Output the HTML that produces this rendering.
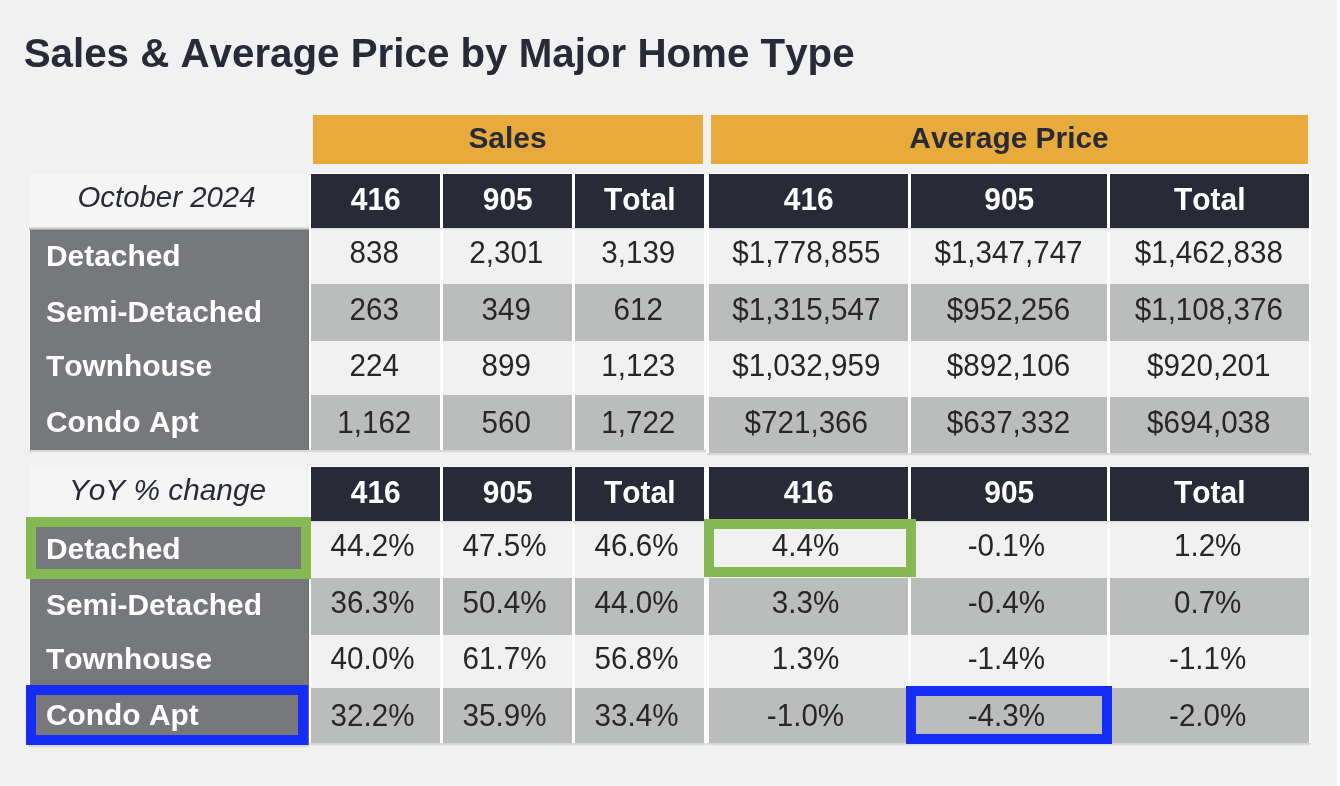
<!DOCTYPE html>
<html><head><meta charset="utf-8"><title>Sales &amp; Average Price by Major Home Type</title>
<style>
html,body{margin:0;padding:0}
body{width:1340px;height:786px;background:#f1f1f1;position:relative;overflow:hidden;font-family:"Liberation Sans",sans-serif;color:#272727}
body>div{position:absolute;box-sizing:content-box;white-space:nowrap}
.t{font-kerning:none;line-height:40px;height:40px;font-size:29.6px}
.title{font-size:40.3px;font-weight:bold;color:#282b37;letter-spacing:0px}
.dc{transform-origin:50% 30.5px;transform:scaleY(1.035)}
.dh{transform-origin:50% 30.5px;transform:scaleY(1.03)}
.oh{font-weight:bold;color:#282b37;font-size:29.9px}
.dh{font-weight:bold;color:#fff;font-size:29.9px}
.lh{font-style:italic;color:#282b37}
.rl{font-weight:bold;color:#fff;font-size:29.9px}
</style></head><body>
<div class="t title" style="left:23.7px;top:34.04px">Sales &amp; Average Price by Major Home Type</div>
<div style="left:313px;top:115px;width:390px;height:49px;background:#e8ab3b;"></div>
<div style="left:711px;top:115px;width:597px;height:49px;background:#e8ab3b;"></div>
<div class="t oh" style="left:357.5px;top:118.24px;width:300px;text-align:center">Sales</div>
<div class="t oh" style="left:859.0px;top:118.24px;width:300px;text-align:center">Average Price</div>
<div style="left:309px;top:173px;width:397px;height:277px;background:#ffffff;"></div>
<div style="left:707px;top:173px;width:604px;height:280px;background:#ffffff;"></div>
<div style="left:706px;top:228px;width:1px;height:222px;background:#f4f4f4;"></div>
<div style="left:706px;top:173px;width:1px;height:55px;background:#ffffff;"></div>
<div style="left:311px;top:228px;width:393px;height:1px;background:#dcdcdc;"></div>
<div style="left:311px;top:229px;width:393px;height:1px;background:#e9e9e9;"></div>
<div style="left:709px;top:228px;width:600px;height:1px;background:#dcdcdc;"></div>
<div style="left:709px;top:229px;width:600px;height:1px;background:#e9e9e9;"></div>
<div style="left:30px;top:174px;width:275px;height:53px;background:#f5f5f5;"></div>
<div class="t lh" style="left:16.5px;top:176.81px;width:300px;text-align:center;font-size:29.4px">October 2024</div>
<div style="left:311px;top:174px;width:129px;height:54px;background:#282b37;"></div>
<div class="t dh" style="left:225.8px;top:179.64px;width:300px;text-align:center">416</div>
<div style="left:443px;top:174px;width:129px;height:54px;background:#282b37;"></div>
<div class="t dh" style="left:357.8px;top:179.64px;width:300px;text-align:center">905</div>
<div style="left:575px;top:174px;width:129px;height:54px;background:#282b37;"></div>
<div class="t dh" style="left:489.8px;top:179.64px;width:300px;text-align:center">Total</div>
<div style="left:709px;top:174px;width:199px;height:54px;background:#282b37;"></div>
<div class="t dh" style="left:658.8px;top:179.64px;width:300px;text-align:center">416</div>
<div style="left:911px;top:174px;width:196px;height:54px;background:#282b37;"></div>
<div class="t dh" style="left:859.3px;top:179.64px;width:300px;text-align:center">905</div>
<div style="left:1110px;top:174px;width:199px;height:54px;background:#282b37;"></div>
<div class="t dh" style="left:1059.8px;top:179.64px;width:300px;text-align:center">Total</div>
<div style="left:29px;top:230px;width:1px;height:220px;background:#fafafa;"></div>
<div style="left:30px;top:230px;width:279px;height:220px;background:#77787c;"></div>
<div style="left:308px;top:230px;width:1px;height:220px;background:#6c6d71;"></div>
<div style="left:29px;top:450px;width:280px;height:1px;background:#d6d6d6;"></div>
<div style="left:29px;top:451px;width:280px;height:1px;background:#dadada;"></div>
<div style="left:29px;top:452px;width:280px;height:1px;background:#ebebeb;"></div>
<div style="left:309px;top:450px;width:397px;height:1px;background:#d6d6d6;"></div>
<div style="left:309px;top:451px;width:397px;height:1px;background:#dadada;"></div>
<div style="left:309px;top:452px;width:397px;height:1px;background:#ebebeb;"></div>
<div style="left:707px;top:453px;width:604px;height:1px;background:#d6d6d6;"></div>
<div style="left:707px;top:454px;width:604px;height:1px;background:#dadada;"></div>
<div style="left:707px;top:455px;width:604px;height:1px;background:#ebebeb;"></div>
<div style="left:311px;top:230px;width:129px;height:54px;background:#f1f1f1;"></div>
<div class="t dc" style="left:224.3px;top:232.84px;width:300px;text-align:center">838</div>
<div style="left:443px;top:230px;width:129px;height:54px;background:#f1f1f1;"></div>
<div class="t dc" style="left:356.3px;top:232.84px;width:300px;text-align:center">2,301</div>
<div style="left:575px;top:230px;width:129px;height:54px;background:#f1f1f1;"></div>
<div class="t dc" style="left:488.3px;top:232.84px;width:300px;text-align:center">3,139</div>
<div style="left:709px;top:230px;width:199px;height:54px;background:#f1f1f1;"></div>
<div class="t dc" style="left:656.3px;top:232.84px;width:300px;text-align:center">$1,778,855</div>
<div style="left:911px;top:230px;width:196px;height:54px;background:#f1f1f1;"></div>
<div class="t dc" style="left:858.5px;top:232.84px;width:300px;text-align:center">$1,347,747</div>
<div style="left:1110px;top:230px;width:199px;height:54px;background:#f1f1f1;"></div>
<div class="t dc" style="left:1058.8px;top:232.84px;width:300px;text-align:center">$1,462,838</div>
<div class="t rl" style="left:46px;top:235.84px">Detached</div>
<div style="left:311px;top:284px;width:129px;height:57px;background:#bbbdbc;"></div>
<div class="t dc" style="left:224.3px;top:289.94px;width:300px;text-align:center">263</div>
<div style="left:443px;top:284px;width:129px;height:57px;background:#bbbdbc;"></div>
<div class="t dc" style="left:356.3px;top:289.94px;width:300px;text-align:center">349</div>
<div style="left:575px;top:284px;width:129px;height:57px;background:#bbbdbc;"></div>
<div class="t dc" style="left:488.3px;top:289.94px;width:300px;text-align:center">612</div>
<div style="left:709px;top:284px;width:199px;height:57px;background:#bbbdbc;"></div>
<div class="t dc" style="left:656.3px;top:289.94px;width:300px;text-align:center">$1,315,547</div>
<div style="left:911px;top:284px;width:196px;height:57px;background:#bbbdbc;"></div>
<div class="t dc" style="left:858.5px;top:289.94px;width:300px;text-align:center">$952,256</div>
<div style="left:1110px;top:284px;width:199px;height:57px;background:#bbbdbc;"></div>
<div class="t dc" style="left:1058.8px;top:289.94px;width:300px;text-align:center">$1,108,376</div>
<div class="t rl" style="left:46px;top:291.84px">Semi-Detached</div>
<div style="left:311px;top:341px;width:129px;height:54px;background:#f1f1f1;"></div>
<div class="t dc" style="left:224.3px;top:345.54px;width:300px;text-align:center">224</div>
<div style="left:443px;top:341px;width:129px;height:54px;background:#f1f1f1;"></div>
<div class="t dc" style="left:356.3px;top:345.54px;width:300px;text-align:center">899</div>
<div style="left:575px;top:341px;width:129px;height:54px;background:#f1f1f1;"></div>
<div class="t dc" style="left:488.3px;top:345.54px;width:300px;text-align:center">1,123</div>
<div style="left:709px;top:341px;width:199px;height:56px;background:#f1f1f1;"></div>
<div class="t dc" style="left:656.3px;top:345.54px;width:300px;text-align:center">$1,032,959</div>
<div style="left:911px;top:341px;width:196px;height:56px;background:#f1f1f1;"></div>
<div class="t dc" style="left:858.5px;top:345.54px;width:300px;text-align:center">$892,106</div>
<div style="left:1110px;top:341px;width:199px;height:56px;background:#f1f1f1;"></div>
<div class="t dc" style="left:1058.8px;top:345.54px;width:300px;text-align:center">$920,201</div>
<div class="t rl" style="left:46px;top:345.74px">Townhouse</div>
<div style="left:311px;top:395px;width:129px;height:55px;background:#bbbdbc;"></div>
<div class="t dc" style="left:224.3px;top:402.64px;width:300px;text-align:center">1,162</div>
<div style="left:443px;top:395px;width:129px;height:55px;background:#bbbdbc;"></div>
<div class="t dc" style="left:356.3px;top:402.64px;width:300px;text-align:center">560</div>
<div style="left:575px;top:395px;width:129px;height:55px;background:#bbbdbc;"></div>
<div class="t dc" style="left:488.3px;top:402.64px;width:300px;text-align:center">1,722</div>
<div style="left:709px;top:397px;width:199px;height:56px;background:#bbbdbc;"></div>
<div class="t dc" style="left:656.3px;top:402.64px;width:300px;text-align:center">$721,366</div>
<div style="left:911px;top:397px;width:196px;height:56px;background:#bbbdbc;"></div>
<div class="t dc" style="left:858.5px;top:402.64px;width:300px;text-align:center">$637,332</div>
<div style="left:1110px;top:397px;width:199px;height:56px;background:#bbbdbc;"></div>
<div class="t dc" style="left:1058.8px;top:402.64px;width:300px;text-align:center">$694,038</div>
<div class="t rl" style="left:46px;top:402.14px">Condo Apt</div>
<div style="left:309px;top:466px;width:397px;height:277px;background:#ffffff;"></div>
<div style="left:707px;top:466px;width:604px;height:277px;background:#ffffff;"></div>
<div style="left:706px;top:521px;width:1px;height:222px;background:#f4f4f4;"></div>
<div style="left:706px;top:466px;width:1px;height:55px;background:#ffffff;"></div>
<div style="left:311px;top:521px;width:393px;height:1px;background:#dcdcdc;"></div>
<div style="left:311px;top:522px;width:393px;height:1px;background:#e9e9e9;"></div>
<div style="left:709px;top:521px;width:600px;height:1px;background:#dcdcdc;"></div>
<div style="left:709px;top:522px;width:600px;height:1px;background:#e9e9e9;"></div>
<div style="left:30px;top:467px;width:275px;height:50px;background:#f5f5f5;"></div>
<div class="t lh" style="left:17.5px;top:469.97px;width:300px;text-align:center;font-size:29.8px">YoY % change</div>
<div style="left:311px;top:467px;width:129px;height:54px;background:#282b37;"></div>
<div class="t dh" style="left:225.8px;top:472.84px;width:300px;text-align:center">416</div>
<div style="left:443px;top:467px;width:129px;height:54px;background:#282b37;"></div>
<div class="t dh" style="left:357.8px;top:472.84px;width:300px;text-align:center">905</div>
<div style="left:575px;top:467px;width:129px;height:54px;background:#282b37;"></div>
<div class="t dh" style="left:489.8px;top:472.84px;width:300px;text-align:center">Total</div>
<div style="left:709px;top:467px;width:199px;height:54px;background:#282b37;"></div>
<div class="t dh" style="left:658.8px;top:472.84px;width:300px;text-align:center">416</div>
<div style="left:911px;top:467px;width:196px;height:54px;background:#282b37;"></div>
<div class="t dh" style="left:859.3px;top:472.84px;width:300px;text-align:center">905</div>
<div style="left:1110px;top:467px;width:199px;height:54px;background:#282b37;"></div>
<div class="t dh" style="left:1059.8px;top:472.84px;width:300px;text-align:center">Total</div>
<div style="left:29px;top:517px;width:1px;height:228px;background:#fafafa;"></div>
<div style="left:30px;top:517px;width:279px;height:228px;background:#77787c;"></div>
<div style="left:308px;top:517px;width:1px;height:228px;background:#6c6d71;"></div>
<div style="left:29px;top:745px;width:280px;height:1px;background:#d6d6d6;"></div>
<div style="left:29px;top:746px;width:280px;height:1px;background:#dadada;"></div>
<div style="left:29px;top:747px;width:280px;height:1px;background:#ebebeb;"></div>
<div style="left:309px;top:743px;width:397px;height:1px;background:#d6d6d6;"></div>
<div style="left:309px;top:744px;width:397px;height:1px;background:#dadada;"></div>
<div style="left:309px;top:745px;width:397px;height:1px;background:#ebebeb;"></div>
<div style="left:707px;top:743px;width:604px;height:1px;background:#d6d6d6;"></div>
<div style="left:707px;top:744px;width:604px;height:1px;background:#dadada;"></div>
<div style="left:707px;top:745px;width:604px;height:1px;background:#ebebeb;"></div>
<div style="left:311px;top:523px;width:129px;height:55px;background:#f1f1f1;"></div>
<div class="t dc" style="left:222.5px;top:526.14px;width:300px;text-align:center">44.2%</div>
<div style="left:443px;top:523px;width:129px;height:55px;background:#f1f1f1;"></div>
<div class="t dc" style="left:354.5px;top:526.14px;width:300px;text-align:center">47.5%</div>
<div style="left:575px;top:523px;width:129px;height:55px;background:#f1f1f1;"></div>
<div class="t dc" style="left:486.5px;top:526.14px;width:300px;text-align:center">46.6%</div>
<div style="left:709px;top:523px;width:199px;height:55px;background:#f1f1f1;"></div>
<div class="t dc" style="left:655.5px;top:526.14px;width:300px;text-align:center">4.4%</div>
<div style="left:911px;top:523px;width:196px;height:55px;background:#f1f1f1;"></div>
<div class="t dc" style="left:856.3px;top:526.14px;width:300px;text-align:center">-0.1%</div>
<div style="left:1110px;top:523px;width:199px;height:55px;background:#f1f1f1;"></div>
<div class="t dc" style="left:1057.7px;top:526.14px;width:300px;text-align:center">1.2%</div>
<div class="t rl" style="left:46px;top:528.84px">Detached</div>
<div style="left:311px;top:578px;width:129px;height:57px;background:#bbbdbc;"></div>
<div class="t dc" style="left:222.5px;top:583.24px;width:300px;text-align:center">36.3%</div>
<div style="left:443px;top:578px;width:129px;height:57px;background:#bbbdbc;"></div>
<div class="t dc" style="left:354.5px;top:583.24px;width:300px;text-align:center">50.4%</div>
<div style="left:575px;top:578px;width:129px;height:57px;background:#bbbdbc;"></div>
<div class="t dc" style="left:486.5px;top:583.24px;width:300px;text-align:center">44.0%</div>
<div style="left:709px;top:578px;width:199px;height:57px;background:#bbbdbc;"></div>
<div class="t dc" style="left:655.5px;top:583.24px;width:300px;text-align:center">3.3%</div>
<div style="left:911px;top:578px;width:196px;height:57px;background:#bbbdbc;"></div>
<div class="t dc" style="left:856.3px;top:583.24px;width:300px;text-align:center">-0.4%</div>
<div style="left:1110px;top:578px;width:199px;height:57px;background:#bbbdbc;"></div>
<div class="t dc" style="left:1057.7px;top:583.24px;width:300px;text-align:center">0.7%</div>
<div class="t rl" style="left:46px;top:584.84px">Semi-Detached</div>
<div style="left:311px;top:635px;width:129px;height:53px;background:#f1f1f1;"></div>
<div class="t dc" style="left:222.5px;top:638.84px;width:300px;text-align:center">40.0%</div>
<div style="left:443px;top:635px;width:129px;height:53px;background:#f1f1f1;"></div>
<div class="t dc" style="left:354.5px;top:638.84px;width:300px;text-align:center">61.7%</div>
<div style="left:575px;top:635px;width:129px;height:53px;background:#f1f1f1;"></div>
<div class="t dc" style="left:486.5px;top:638.84px;width:300px;text-align:center">56.8%</div>
<div style="left:709px;top:635px;width:199px;height:53px;background:#f1f1f1;"></div>
<div class="t dc" style="left:655.5px;top:638.84px;width:300px;text-align:center">1.3%</div>
<div style="left:911px;top:635px;width:196px;height:53px;background:#f1f1f1;"></div>
<div class="t dc" style="left:856.3px;top:638.84px;width:300px;text-align:center">-1.4%</div>
<div style="left:1110px;top:635px;width:199px;height:53px;background:#f1f1f1;"></div>
<div class="t dc" style="left:1057.7px;top:638.84px;width:300px;text-align:center">-1.1%</div>
<div class="t rl" style="left:46px;top:638.74px">Townhouse</div>
<div style="left:311px;top:688px;width:129px;height:55px;background:#bbbdbc;"></div>
<div class="t dc" style="left:222.5px;top:695.94px;width:300px;text-align:center">32.2%</div>
<div style="left:443px;top:688px;width:129px;height:55px;background:#bbbdbc;"></div>
<div class="t dc" style="left:354.5px;top:695.94px;width:300px;text-align:center">35.9%</div>
<div style="left:575px;top:688px;width:129px;height:55px;background:#bbbdbc;"></div>
<div class="t dc" style="left:486.5px;top:695.94px;width:300px;text-align:center">33.4%</div>
<div style="left:709px;top:688px;width:199px;height:55px;background:#bbbdbc;"></div>
<div class="t dc" style="left:655.5px;top:695.94px;width:300px;text-align:center">-1.0%</div>
<div style="left:911px;top:688px;width:196px;height:55px;background:#bbbdbc;"></div>
<div class="t dc" style="left:856.3px;top:695.94px;width:300px;text-align:center">-4.3%</div>
<div style="left:1110px;top:688px;width:199px;height:55px;background:#bbbdbc;"></div>
<div class="t dc" style="left:1057.7px;top:695.94px;width:300px;text-align:center">-2.0%</div>
<div class="t rl" style="left:46px;top:695.14px">Condo Apt</div>
<div style="left:1337px;top:0px;width:3px;height:786px;background:#ffffff;"></div>
<div style="left:29px;top:227px;width:280px;height:1px;background:#dadada;"></div>
<div style="left:29px;top:228px;width:280px;height:1px;background:#d2d2d2;"></div>
<div style="left:29px;top:229px;width:280px;height:1px;background:#a5a6a8;"></div>
<div style="left:26px;top:517px;width:265px;height:42px;border:10px solid #86b853"></div>
<div style="left:704px;top:519px;width:192px;height:38px;border:10px solid #86b853"></div>
<div style="left:26px;top:685px;width:262px;height:40px;border:10px solid #152df5"></div>
<div style="left:906px;top:686px;width:186px;height:38px;border:10px solid #152df5"></div>
</body></html>
